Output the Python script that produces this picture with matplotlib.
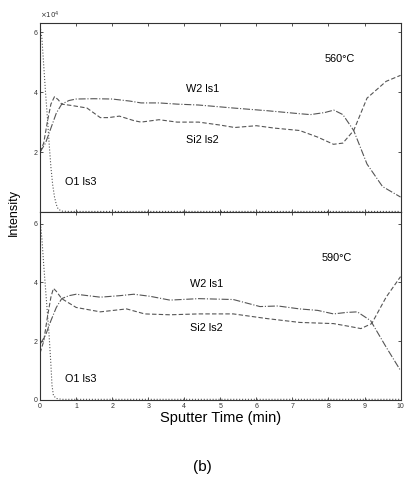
import matplotlib
matplotlib.use('Agg')
import matplotlib.pyplot as plt

plt.rcParams['font.family'] = ['Liberation Sans', 'DejaVu Sans']

# 560 C panel (intensity in units of 1e4)
t_w_560 = [0, 0.15, 0.3, 0.45, 0.6, 0.8, 1.0, 1.5, 2.0, 2.5, 2.8, 3.3, 3.8, 4.4, 5.36,
           6.3, 7.2, 7.5, 7.9, 8.15, 8.4, 8.7, 9.07, 9.5, 10]
w_560 = [2.0, 2.3, 2.8, 3.3, 3.6, 3.72, 3.77, 3.78, 3.77, 3.7, 3.64, 3.64, 3.6, 3.57, 3.47,
         3.38, 3.28, 3.25, 3.32, 3.4, 3.25, 2.72, 1.6, 0.85, 0.5]
t_si_560 = [0, 0.1, 0.2, 0.3, 0.4, 0.5, 0.6, 0.9, 1.3, 1.67, 1.9, 2.2, 2.6, 2.8, 3.3, 3.8,
            4.4, 5.0, 5.4, 6.0, 6.5, 7.2, 7.7, 8.14, 8.4, 8.7, 9.07, 9.6, 10]
si_560 = [2.0, 2.3, 3.0, 3.6, 3.85, 3.75, 3.6, 3.55, 3.47, 3.15, 3.15, 3.2, 3.05, 3.0, 3.08,
          3.0, 3.0, 2.9, 2.82, 2.88, 2.8, 2.72, 2.5, 2.26, 2.3, 2.72, 3.8, 4.36, 4.56]
t_o_560 = [0, 0.05, 0.1, 0.15, 0.2, 0.25, 0.3, 0.35, 0.4, 0.45, 0.5, 0.6, 0.8, 10]
o_560 = [6.2, 5.8, 4.9, 4.0, 3.2, 2.3, 1.5, 0.9, 0.5, 0.25, 0.1, 0.03, 0.02, 0.02]

# 590 C panel
t_w_590 = [0, 0.15, 0.3, 0.45, 0.6, 0.8, 1.0, 1.67, 2.2, 2.6, 3.05, 3.6, 4.4, 5.36, 6.1,
           6.6, 7.2, 7.7, 8.14, 8.5, 8.8, 9.17, 9.6, 10]
w_590 = [1.9, 2.2, 2.7, 3.15, 3.45, 3.55, 3.6, 3.5, 3.55, 3.6, 3.53, 3.4, 3.45, 3.42, 3.18,
         3.2, 3.1, 3.05, 2.93, 2.98, 3.0, 2.7, 1.8, 1.0]
t_si_590 = [0, 0.1, 0.2, 0.3, 0.37, 0.45, 0.6, 0.8, 1.0, 1.67, 2.4, 2.9, 3.6, 4.4, 5.36,
            6.3, 7.2, 8.14, 8.6, 8.9, 9.2, 9.6, 10]
si_590 = [1.6, 2.0, 2.8, 3.5, 3.8, 3.7, 3.45, 3.3, 3.15, 3.0, 3.1, 2.93, 2.9, 2.93, 2.93,
          2.77, 2.64, 2.6, 2.5, 2.43, 2.6, 3.5, 4.2]
t_o_590 = [0, 0.05, 0.1, 0.15, 0.2, 0.25, 0.3, 0.33, 0.37, 0.45, 0.6, 10]
o_590 = [6.1, 5.5, 4.6, 3.8, 3.0, 2.2, 1.2, 0.5, 0.15, 0.05, 0.02, 0.02]

x_ticks = list(range(11))
y_ticks = [0, 2, 4, 6]

fig = plt.figure(figsize=(4.05, 4.83), dpi=100)
ax1 = fig.add_axes([0.099, 0.561, 0.89, 0.391])
ax2 = fig.add_axes([0.099, 0.172, 0.89, 0.389])

col = '#555555'
panels = [
    (ax1, t_w_560, w_560, t_si_560, si_560, t_o_560, o_560, '560°C', 6.3, (4.05, 4.1), (4.05, 2.4), (0.7, 1.0), (7.9, 5.1)),
    (ax2, t_w_590, w_590, t_si_590, si_590, t_o_590, o_590, '590°C', 6.4, (4.15, 3.95), (4.15, 2.45), (0.7, 0.72), (7.8, 4.85)),
]
for ax, tw, w, ts, si, to, o, temp, ytop, pw, ps, po, pt in panels:
    ax.plot(tw, w, color=col, lw=0.8, ls='-.')
    ax.plot(ts, si, color=col, lw=0.8, ls=(0, (4, 2)))
    ax.plot(to, o, color=col, lw=0.8, ls=':')
    ax.set_xlim(0, 10)
    ax.set_ylim(0, ytop)
    ax.set_xticks(x_ticks)
    ax.set_yticks(y_ticks)
    ax.tick_params(direction='in', length=2.5, width=0.6, labelsize=5, colors='#333333',
                   top=True, right=True, pad=2)
    for s in ax.spines.values():
        s.set_linewidth(0.8)
        s.set_color('#333333')
    ax.text(pw[0], pw[1], 'W2 ls1', fontsize=7.8, ha='left', va='center')
    ax.text(ps[0], ps[1], 'Si2 ls2', fontsize=7.8, ha='left', va='center')
    ax.text(po[0], po[1], 'O1 ls3', fontsize=7.8, ha='left', va='center')
    ax.text(pt[0], pt[1], temp, fontsize=7.8, ha='left', va='center')

ax1.tick_params(labelbottom=False)
ax1.set_yticks([2, 4, 6])

fig.text(0.1, 0.968, r'$\times10^4$', fontsize=5, ha='left', va='center', color='#333333')
fig.text(0.035, 0.56, 'Intensity', rotation=90, fontsize=9, ha='center', va='center')
ax2.set_xlabel('Sputter Time (min)', fontsize=10.5, labelpad=1)
fig.text(0.499, 0.033, '(b)', fontsize=11, ha='center', va='center')

fig.savefig('out.png', dpi=100)
